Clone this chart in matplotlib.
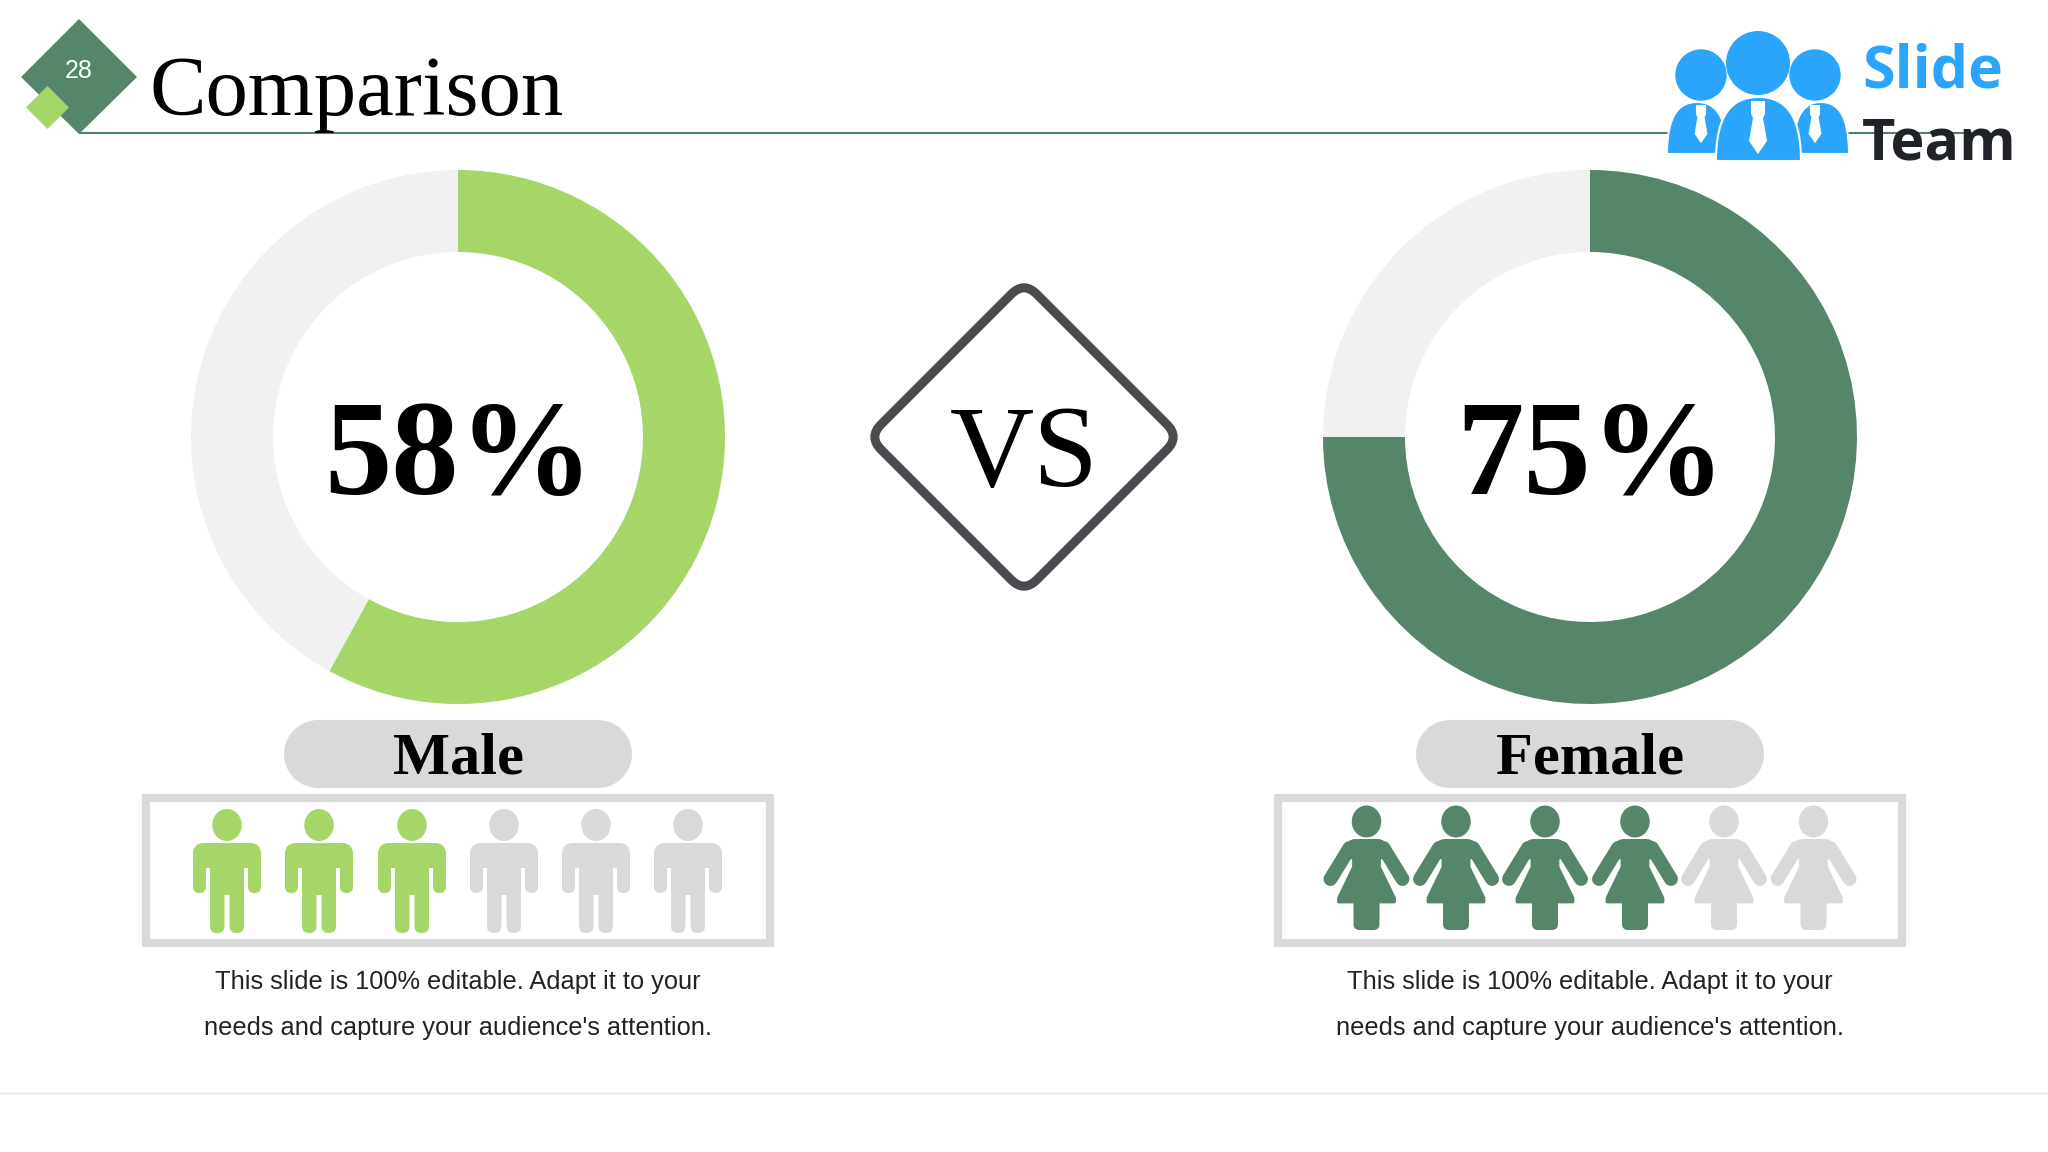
import matplotlib
matplotlib.use("Agg")
import matplotlib.pyplot as plt
from matplotlib.patches import Ellipse, FancyBboxPatch, PathPatch, Polygon, Rectangle, Circle
from matplotlib.path import Path
from matplotlib.transforms import Affine2D

W, H = 2048, 1152

# data
groups = ["Male", "Female"]
percents = [58, 75]
people_total = 6
people_filled = [3, 4]
page_number = "28"
caption = ["This slide is 100% editable. Adapt it to your",
           "needs and capture your audience's attention."]

LIGHT = "#a6d667"
DARK = "#55866a"
GREY = "#d9d8da"
TRACK = "#f2f1f2"
BLUE = "#2aa5fb"
SERIF = "Liberation Serif"
SANS = "Liberation Sans"

fig = plt.figure(figsize=(W / 100, H / 100), dpi=100, facecolor="white")
ax = fig.add_axes([0, 0, 1, 1])


def Y(y):
    # picture coordinates run top down
    return H - y


def rbox(x0, y0, x1, y1, r, color, z=3):
    ax.add_patch(FancyBboxPatch((x0, Y(y1)), x1 - x0, y1 - y0,
                                boxstyle="round,pad=0,rounding_size={0}".format(r),
                                fc=color, ec="none", zorder=z))


def poly(points, color, z=3, **kw):
    ax.add_patch(Polygon([(x, Y(y)) for x, y in points], closed=True, fc=color,
                         ec=kw.get("ec", "none"), lw=kw.get("lw", 0),
                         joinstyle="round", zorder=z))


def man(cx, color):
    ax.add_patch(Ellipse((cx, Y(825)), 29.5, 32, fc=color, ec="none", zorder=3))
    rbox(cx - 34, 843, cx + 34, 868, 11, color)
    rbox(cx - 34, 850, cx - 21, 893, 6.3, color)
    rbox(cx + 21, 850, cx + 34, 893, 6.3, color)
    ax.add_patch(Rectangle((cx - 17, Y(895)), 34, 50, fc=color, ec="none", zorder=3))
    rbox(cx - 17, 880, cx - 2.5, 933, 6.8, color)
    rbox(cx + 2.5, 880, cx + 17, 933, 6.8, color)


def woman(cx, color):
    ax.add_patch(Ellipse((cx, Y(821.5)), 29.5, 32, fc=color, ec="none", zorder=3))
    rbox(cx - 20, 839, cx + 20, 860, 9, color)
    for side in (-1, 1):
        ax.plot([cx + side * 17, cx + side * 36], [Y(848), Y(879)], color=color, lw=10,
                solid_capstyle="round", zorder=3)
    poly([(cx - 13, 845), (cx + 13, 845), (cx + 13, 867), (cx + 28, 898), (cx + 28, 902),
          (cx - 28, 902), (cx - 28, 898), (cx - 13, 867)], color, ec=color, lw=2)
    rbox(cx - 13, 895, cx + 13, 930, 6, color)


def dome(x0, x1, ytop, ybot, color, z=5):
    mid = (x0 + x1) / 2
    verts = [(x0, Y(ybot)), (x0, Y(ytop + (ybot - ytop) * 0.25)), (x0 + (x1 - x0) * 0.2, Y(ytop)), (mid, Y(ytop)),
             (x1 - (x1 - x0) * 0.2, Y(ytop)), (x1, Y(ytop + (ybot - ytop) * 0.25)), (x1, Y(ybot)), (x0, Y(ybot))]
    codes = [Path.MOVETO, Path.CURVE4, Path.CURVE4, Path.CURVE4, Path.CURVE4, Path.CURVE4, Path.CURVE4, Path.CLOSEPOLY]
    ax.add_patch(PathPatch(Path(verts, codes), fc=color, ec="white", lw=1.5, joinstyle="round", zorder=z))


def tie(cx, ytop, k):
    poly([(cx - 7 * k, ytop), (cx + 7 * k, ytop), (cx + 7 * k, ytop + 13 * k), (cx + 5 * k, ytop + 17 * k),
          (cx + 9 * k, ytop + 40 * k), (cx, ytop + 53 * k), (cx - 9 * k, ytop + 40 * k),
          (cx - 5 * k, ytop + 17 * k), (cx - 7 * k, ytop + 13 * k)], "white", z=6)


# header
ax.plot([79, 1975], [Y(132.5), Y(132.5)], color="#4f8267", lw=1.5, zorder=1, solid_capstyle="butt")
poly([(21, 77), (79, 19), (137, 77), (79, 134)], DARK)
poly([(26, 107.5), (47.5, 86), (69, 107.5), (47.5, 129)], LIGHT, z=4)
ax.text(79, Y(71), page_number, color="white", fontsize=18, family=SANS, ha="center", va="center", zorder=5)
ax.text(149.5, Y(115), "Comparison", color="black", fontsize=61, family=SERIF, ha="left", va="baseline")

# logo
ax.add_patch(Circle((1701, Y(75)), 25.7, fc=BLUE, ec="none", zorder=5))
ax.add_patch(Circle((1815, Y(75)), 25.7, fc=BLUE, ec="none", zorder=5))
ax.add_patch(Circle((1758, Y(63)), 32, fc=BLUE, ec="none", zorder=5))
dome(1667, 1727, 102, 154, BLUE)
dome(1793, 1849, 102, 154, BLUE)
tie(1701, 105, 0.72)
tie(1815, 105, 0.72)
dome(1716, 1801, 97, 161, BLUE)
tie(1758, 101, 1.0)
ax.text(1862, Y(87), "Slide", color=BLUE, fontsize=42.5, family="Open Sans", fontweight="bold", va="baseline", zorder=6)
ax.text(1862, Y(160), "Team", color="#1f2328", fontsize=41.5, family="Open Sans", fontweight="bold", va="baseline", zorder=6)

# the two panels
panel_cx = [458, 1590]
colors = [LIGHT, DARK]
person_x = [[227, 319, 412, 504, 596, 688], [1366.5, 1456, 1545, 1635, 1724, 1813.5]]
person = [man, woman]
for i in range(len(groups)):
    cx = panel_cx[i]
    ax.pie([percents[i], 100 - percents[i]], colors=[colors[i], TRACK], radius=267, center=(cx, Y(437)),
           startangle=90, counterclock=False, wedgeprops=dict(width=82, linewidth=0))
    ax.text(cx + 1, Y(494), "{0}%".format(percents[i]), color="black", fontsize=97, family=SERIF,
            fontweight="bold", ha="center", va="baseline")

    # pill under the ring, 68 px high so 49 pt line
    ax.plot([cx - 140, cx + 140], [Y(754), Y(754)], color=GREY, lw=49, solid_capstyle="round", zorder=2)
    ax.text(cx, Y(774), groups[i], color="black", fontsize=43.5, family=SERIF, fontweight="bold",
            ha="center", va="baseline", zorder=3)

    ax.add_patch(Rectangle((cx - 312, Y(943)), 624, 145, fc="white", ec=GREY, lw=5.8, zorder=2))
    for j in range(people_total):
        person[i](person_x[i][j], colors[i] if j < people_filled[i] else GREY)

    ax.text(cx, Y(982), caption[0], color="#222222", fontsize=18.3, family=SANS, ha="center", va="center")
    ax.text(cx, Y(1028), caption[1], color="#222222", fontsize=18.3, family=SANS, ha="center", va="center")

# VS badge
cx, cy, a, r = 1024, 437, 110, 18
ax.add_patch(FancyBboxPatch((-a, -a), 2 * a, 2 * a, boxstyle="round,pad=0,rounding_size={0}".format(r),
                            fc="white", ec="#4a4a4f", lw=6.5,
                            transform=Affine2D().rotate_deg(45).translate(cx, Y(cy)) + ax.transData))
ax.text(cx, Y(486), "VS", color="black", fontsize=84, family=SERIF, ha="center", va="baseline")

# bottom rule
ax.plot([0, W], [Y(1093), Y(1093)], color="#e2e2e2", lw=1, zorder=1)

ax.set_xlim(0, W)
ax.set_ylim(0, H)
ax.set_axis_off()
fig.savefig("out.png", dpi=100)
